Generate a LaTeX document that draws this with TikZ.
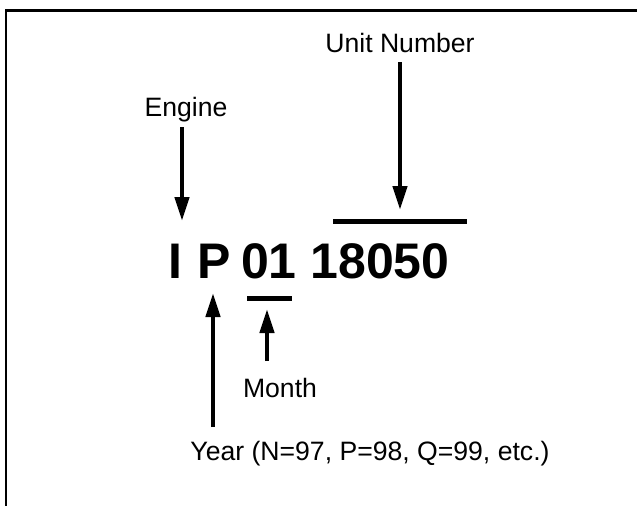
\documentclass[tikz,border=0pt]{standalone}
\usepackage{fontspec}
\setmainfont{Liberation Sans}
\usetikzlibrary{arrows.meta}
\begin{document}
\begin{tikzpicture}[x=1pt,y=-1pt,
  lbl/.style={inner sep=0pt,anchor=base,font=\fontsize{26.6}{30}\selectfont},
  big/.style={inner sep=0pt,anchor=base,font=\fontsize{50}{55}\selectfont\bfseries},
  pointer/.style={line width=4.5pt,-{Triangle[width=14pt,length=24pt]}},
  bar/.style={line width=5pt},
  frame/.style={line width=2.5pt}]
\useasboundingbox[fill=white] (0,0) rectangle (637,506);
% frame (top and left visible)
\draw[frame] (637,10.5) -- (6,10.5) -- (6,506);
% labels
\node[lbl] (unit) at (400,52) {Unit Number};
\node[lbl] (engine) at (186,116) {Engine};
\node[lbl] (month) at (280,397) {Month};
\node[lbl] (year) at (370,460) {Year (N=97, P=98, Q=99, etc.)};
% code
\node[big] (cI) at (175,278) {I};
\node[big] (cP) at (214,278) {P};
\node[big] (cM) at (269,278) {01};
\node[big] (cU) at (380,278) {18050};
% bars
\coordinate (ovl) at (333,221);
\coordinate (ovr) at (467,221);
\draw[bar] (ovl) -- (ovr);
\coordinate (unl) at (247,298.5);
\coordinate (unr) at (292,298.5);
\draw[bar] (unl) -- (unr);
% arrow ends
\coordinate (unitA) at (400,62);
\coordinate (unitB) at (400,210);
\coordinate (engA) at (182,127);
\coordinate (engB) at (182,221);
\coordinate (monA) at (267,361);
\coordinate (monB) at (267,309);
\coordinate (yearA) at (213,427);
\coordinate (yearB) at (213,293);
\draw[pointer] (unitA) -- (unitB);
\draw[pointer] (engA) -- (engB);
\draw[pointer] (monA) -- (monB);
\draw[pointer] (yearA) -- (yearB);
\end{tikzpicture}
\end{document}
